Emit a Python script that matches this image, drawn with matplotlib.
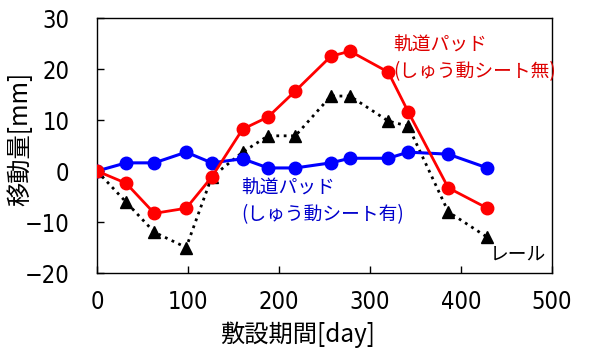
import numpy as np
import matplotlib
matplotlib.use("Agg")
import matplotlib.pyplot as plt

plt.rcParams['font.family'] = ['Noto Sans CJK JP', 'DejaVu Sans']

# data
days = [0, 32, 63, 98, 126, 160, 188, 218, 257, 278, 320, 342, 386, 429]
pad_nashi = [0, -2.4, -8.3, -7.3, -1.2, 8.2, 10.6, 15.7, 22.5, 23.5, 19.4, 11.6, -3.3, -7.3]
pad_ari = [0, 1.6, 1.6, 3.7, 1.6, 2.4, 0.6, 0.6, 1.6, 2.5, 2.5, 3.7, 3.3, 0.6]
rail = [0, -6.1, -12.0, -15.0, -1.2, 3.7, 6.9, 6.9, 14.7, 14.7, 9.8, 8.8, -8.0, -13.0]

xticks = [0, 100, 200, 300, 400, 500]
yticks = [-20, -10, 0, 10, 20, 30]

fig = plt.figure(figsize=(5.9, 3.54), dpi=100)
ax = fig.add_axes([0.1644, 0.2288, 0.7712, 0.7203])

ax.plot(days, rail, color='black', linestyle=':', linewidth=2, marker='^', markersize=9, zorder=2)
ax.plot(days, pad_ari, color='#0000ff', linewidth=2.2, marker='o', markersize=9, zorder=3)
ax.plot(days, pad_nashi, color='#ff0000', linewidth=2, marker='o', markersize=9, zorder=4)

ax.set_xlim(0, 500)
ax.set_ylim(-20, 30)
ax.set_xticks(xticks)
ax.set_yticks(yticks)
num_font = ['DejaVu Sans']
ax.set_xticklabels([str(v) for v in xticks], family=num_font, fontsize=17, fontstretch='condensed')
ax.set_yticklabels([str(v).replace('-', '\u2212') for v in yticks], family=num_font, fontsize=17,
                   fontstretch='condensed')
ax.tick_params(direction='in', length=5, width=1)
ax.tick_params(axis='x', pad=12)
ax.tick_params(axis='y', pad=20)
for s in ax.spines.values():
    s.set_linewidth(1)

# axis titles (placed like in the original)
fig.text(297.5 / 590, 1 - 335 / 354, '敷設期間[day]', fontsize=17.5, ha='center', va='center')
fig.text(20 / 590, 1 - 139 / 354, '移動量[mm]', fontsize=17.5, ha='center', va='center', rotation=90)

# labels
ax.text(325, 24.7, '軌道パッド', color='#dd0000', fontsize=13.5, va='center', ha='left')
ax.text(325, 19.4, '(しゅう動シート無)', color='#dd0000', fontsize=13.5, va='center', ha='left')
ax.text(159, -3.3, '軌道パッド', color='#0000cc', fontsize=13.5, va='center', ha='left')
ax.text(159, -8.6, '(しゅう動シート有)', color='#0000cc', fontsize=13.5, va='center', ha='left')
ax.text(432, -16.3, 'レール', color='black', fontsize=13.5, va='center', ha='left')

fig.savefig('out.png', dpi=100)
